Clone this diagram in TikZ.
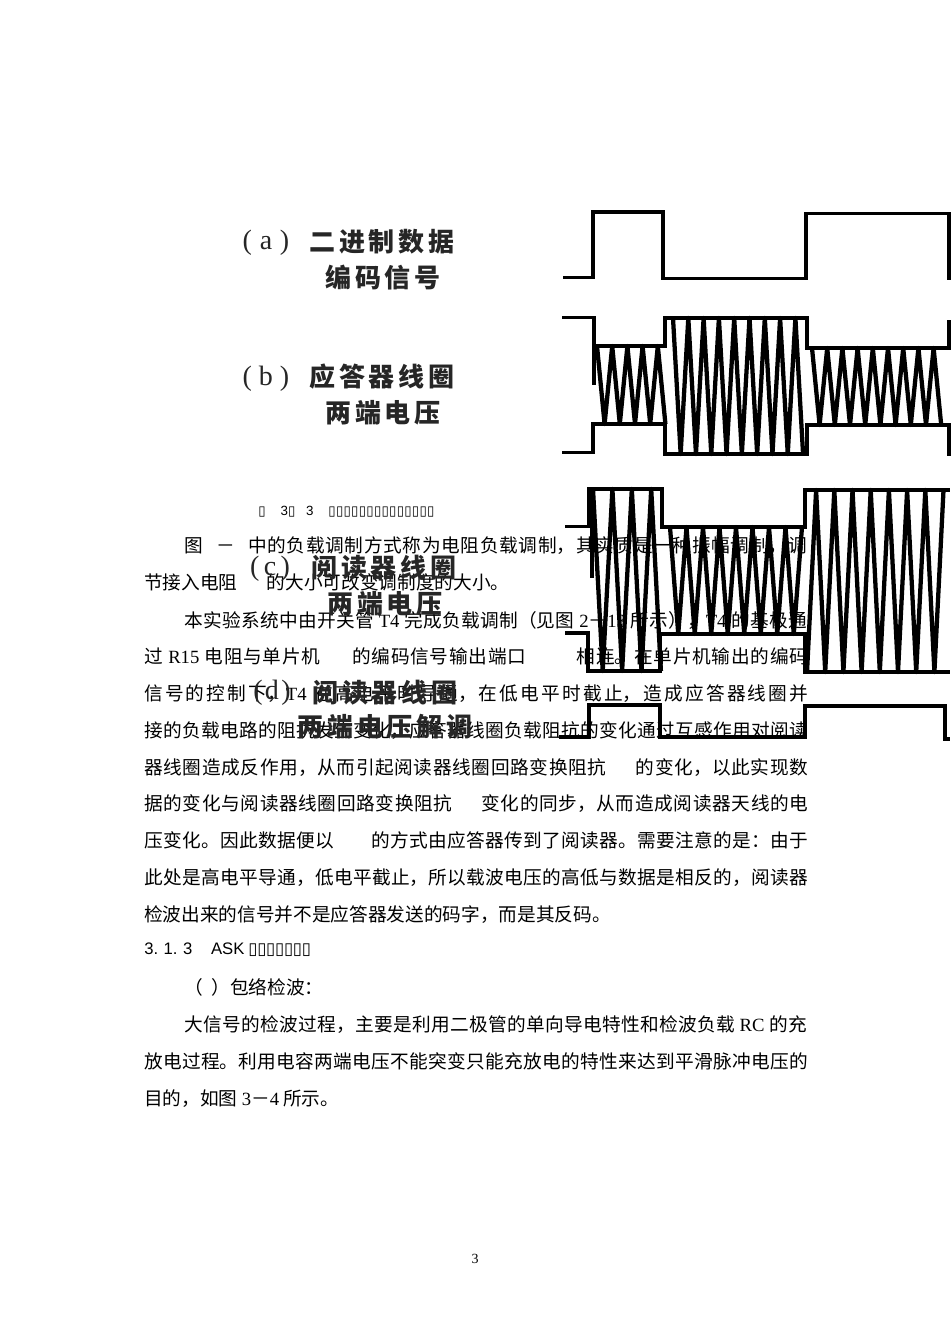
\documentclass[tikz,border=0pt]{standalone}
\usepackage{fontspec}
\setmainfont{Noto Sans CJK SC}
\newfontfamily\latinfont{Liberation Serif}
\newfontfamily\sansfont{Liberation Sans}
\newfontfamily\tofufont{DejaVu Sans}
\newfontfamily\labelfont[LetterSpace=15]{Noto Sans CJK SC}
\XeTeXlinebreaklocale "zh"
\XeTeXlinebreakskip=0pt plus 1pt

\newcommand{\la}[1]{{\latinfont #1}}
\newcommand{\gapby}[1]{\hspace*{#1pt}}
\newcommand{\bodyline}[2]{\parbox{#1pt}{\parfillskip=0pt\strut #2}}
\newcommand{\tofubox}[1]{\makebox[#1pt]{\tofufont ▯}}
% x0, half period, half periods, start y, other y
\newcommand{\carrier}[5]{%
  \draw[carrierline] (#1,#4) foreach \i in {1,...,#3} { -- ({#1+\i*#2},{(#4+#5)/2-(#5-#4)/2*cos(180*\i)}) };}

\tikzset{
  bodytext/.style={anchor=west,inner sep=0pt,font=\fontsize{14}{17}\selectfont},
  smalltext/.style={anchor=west,inner sep=0pt,font=\fontsize{10}{12}\selectfont\sansfont},
  headtext/.style={anchor=west,inner sep=0pt,font=\fontsize{12.5}{15}\selectfont\sansfont},
  wavelabel/.style={inner sep=0pt,text=black!85,font=\fontsize{19.5}{24}\selectfont\labelfont\bfseries},
  tagtext/.style={inner sep=0pt,text=black!85,font=\fontsize{21}{24}\selectfont\latinfont},
  envelope/.style={line width=2.3pt,line join=miter},
  carrierline/.style={line width=3.2pt,line join=round}
}

\begin{document}
\begin{tikzpicture}[x=0.75pt,y=-0.75pt]
  \useasboundingbox[fill=white] (0,0) rectangle (950,1344);

  % caption
  \node[smalltext] (caption) at (258,512) {\tofubox{5.7}\gapby{11}3\tofubox{5.7}\gapby{8}3\gapby{11}\tofubox{5.7}\tofubox{5.7}\tofubox{5.7}\tofubox{5.7}\tofubox{5.7}\tofubox{5.7}\tofubox{5.7}\tofubox{5.7}\tofubox{5.7}\tofubox{5.7}\tofubox{5.7}\tofubox{5.7}\tofubox{5.7}\tofubox{5.7}};

  % body text
  \node[bodytext] (line1) at (184,548) {\bodyline{467}{\strut 图\gapby{10}－\gapby{10}中的负载调制方式称为电阻负载调制，其实质是一种振幅调制，调}};
  \node[bodytext] (line2) at (144,585) {\strut 节接入电阻\gapby{22}的大小可改变调制度的大小。};
  \node[bodytext] (line3) at (184,623) {\bodyline{467}{本实验系统中由开关管 \la{T4} 完成负载调制（见图 \la{2}－\la{13} 所示），\la{T4} 的基极通}};
  \node[bodytext] (line4) at (144,659) {\bodyline{498}{过 \la{R15} 电阻与单片机\gapby{24}的编码信号输出端口\gapby{38}相连。在单片机输出的编码}};
  \node[bodytext] (line5) at (144,696) {\bodyline{498}{信号的控制下，\la{T4} 在高电平时导通，在低电平时截止，造成应答器线圈并}};
  \node[bodytext] (line6) at (144,733) {\bodyline{498}{接的负载电路的阻抗发生变化，应答器线圈负载阻抗的变化通过互感作用对阅读}};
  \node[bodytext] (line7) at (144,770) {\bodyline{498}{器线圈造成反作用，从而引起阅读器线圈回路变换阻抗\gapby{22}的变化，以此实现数}};
  \node[bodytext] (line8) at (144,806) {\bodyline{498}{据的变化与阅读器线圈回路变换阻抗\gapby{22}变化的同步，从而造成阅读器天线的电}};
  \node[bodytext] (line9) at (144,843) {\bodyline{498}{压变化。因此数据便以\gapby{28}的方式由应答器传到了阅读器。需要注意的是：由于}};
  \node[bodytext] (line10) at (144,880) {\bodyline{498}{此处是高电平导通，低电平截止，所以载波电压的高低与数据是相反的，阅读器}};
  \node[bodytext] (line11) at (144,917) {\strut 检波出来的信号并不是应答器发送的码字，而是其反码。};
  \node[headtext] (section) at (144,950) {3.\,\,1.\,\,3\gapby{14}ASK\gapby{3}\tofubox{6.7}\tofubox{6.7}\tofubox{6.7}\tofubox{6.7}\tofubox{6.7}\tofubox{6.7}\tofubox{6.7}};
  \node[bodytext] (line12) at (184,990) {\strut （\gapby{6.5}）包络检波：};
  \node[bodytext] (line13) at (184,1027) {\bodyline{467}{大信号的检波过程，主要是利用二极管的单向导电特性和检波负载 \la{RC} 的充}};
  \node[bodytext] (line14) at (144,1064) {\bodyline{498}{放电过程。利用电容两端电压不能突变只能充放电的特性来达到平滑脉冲电压的}};
  \node[bodytext] (line15) at (144,1101) {\strut 目的，如图 \la{3}－\la{4} 所示。};
  \node[anchor=center,inner sep=0pt,font=\fontsize{10.5}{12}\selectfont\latinfont] (pagenum) at (475,1259) {3};

  % labels of the four waveforms
  \node[tagtext] (taga) at (266,243) {\makebox[35pt][s]{(\hfil a\hfil )}};
  \node[wavelabel] (laba) at (382,242) {二进制数据};
  \node[wavelabel] (laba2) at (383,278) {编码信号};
  \node[tagtext] (tagb) at (266,379) {\makebox[35pt][s]{(\hfil b\hfil )}};
  \node[wavelabel] (labb) at (382,377) {应答器线圈};
  \node[wavelabel] (labb2) at (383,413) {两端电压};
  \node[tagtext] (tagc) at (270,569) {\makebox[30pt][s]{(\hfil c\hfil )}};
  \node[wavelabel] (labc) at (384,568) {阅读器线圈};
  \node[wavelabel] (labc2) at (385,604) {两端电压};
  \node[tagtext] (tagd) at (272,693) {\makebox[28pt][s]{(\hfil d\hfil )}};
  \node[wavelabel] (labd) at (385,693) {阅读器线圈};
  \node[wavelabel] (labd2) at (385,727) {两端电压解调};

  % (a)
  \draw[envelope] (563,277.5) -- (593,277.5) -- (593,212) -- (663,212) -- (663,278.5) -- (806,278.5) -- (806,213.5) -- (949,213.5) -- (949,280);

  % (b)
  \draw[envelope] (562,317.5) -- (594,317.5) -- (594,346) -- (665,346) -- (665,318) -- (807,318) -- (807,348) -- (949,348) -- (949,320);
  \draw[envelope] (562,452.5) -- (593,452.5) -- (593,424) -- (665,424) -- (665,454) -- (807,454) -- (807,425) -- (949,425) -- (949,456);
  \draw[envelope] (594,346) -- (594,385);
  \carrier{597}{7.6}{9}{346}{424}
  \carrier{673}{7.65}{17}{318}{454}
  \carrier{812}{7.6}{17}{348}{425}

  % (c)
  \draw[envelope] (565,526.5) -- (589,526.5) -- (589,489) -- (662,489) -- (662,527) -- (805,527) -- (805,490) -- (950,490);
  \draw[envelope] (565,633) -- (588,633) -- (588,671) -- (660,671) -- (660,634) -- (805,634) -- (805,672) -- (950,672);
  \draw[envelope] (592,489) -- (592,578);
  \carrier{593}{9.7}{7}{489}{671}
  \carrier{670}{8.25}{16}{527}{634}
  \carrier{807}{9.1}{15}{672}{490}

  % (d)
  \draw[envelope] (559,737) -- (589,737) -- (589,705) -- (660,705) -- (660,737) -- (805,737) -- (805,706) -- (945,706) -- (945,739) -- (950,739);
\end{tikzpicture}
\end{document}
